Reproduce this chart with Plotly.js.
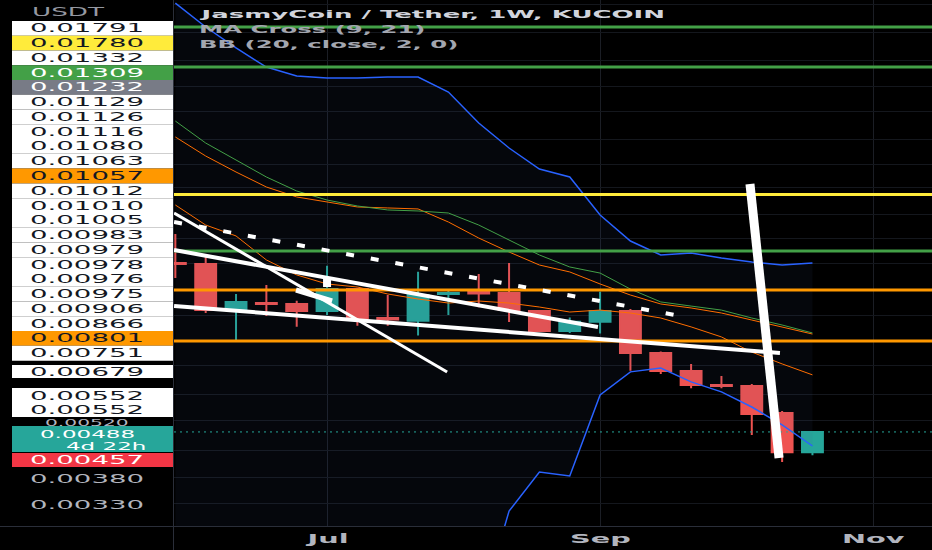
<!DOCTYPE html>
<html><head><meta charset="utf-8">
<script src="https://cdn.plot.ly/plotly-3.0.1.min.js"></script>
<style>
html,body{margin:0;padding:0;background:#000;}
#chart{width:932px;height:550px;}
.annotation-text{transform-box:fill-box;transform:scaleX(2.3);transform-origin:50% 50%;}
.annotation-text[text-anchor="start"]{transform-origin:0% 50%;}
.annotation-text[text-anchor="end"]{transform-origin:100% 50%;}
</style></head>
<body><div id="chart"></div>
<script>
// ---------- data ----------
const weeks = ['2022-05-30','2022-06-06','2022-06-13','2022-06-20','2022-06-27','2022-07-04','2022-07-11','2022-07-18','2022-07-25','2022-08-01','2022-08-08','2022-08-15','2022-08-22','2022-08-29','2022-09-05','2022-09-12','2022-09-19','2022-09-26','2022-10-03','2022-10-10','2022-10-17','2022-10-24'];
const openP  = [0.01225,0.01219,0.00948,0.00985,0.00980,0.00943,0.01063,0.00908,0.00895,0.01035,0.01046,0.01040,0.00943,0.00846,0.00890,0.00943,0.00750,0.00680,0.00630,0.00627,0.00541,0.00437];
const highP  = [0.01435,0.01268,0.01035,0.01087,0.00998,0.01207,0.01071,0.01029,0.01169,0.01063,0.01154,0.01225,0.00948,0.00911,0.01048,0.00954,0.00756,0.00707,0.00662,0.00634,0.00547,0.00489];
const lowP   = [0.01129,0.00933,0.00805,0.00918,0.00866,0.00923,0.00871,0.00871,0.00825,0.00923,0.00963,0.00888,0.00841,0.00837,0.00835,0.00681,0.00669,0.00619,0.00619,0.00480,0.00414,0.00430];
const closeP = [0.01219,0.00948,0.00991,0.00980,0.00943,0.01063,0.00908,0.00901,0.01029,0.01040,0.01038,0.00948,0.00846,0.00890,0.00943,0.00750,0.00680,0.00630,0.00627,0.00538,0.00437,0.00488];

const bbUpper = [0.0505,0.04434,0.03955,0.03565,0.03395,0.03358,0.03358,0.03376,0.03376,0.03111,0.02628,0.02293,0.02045,0.01958,0.01592,0.01381,0.01280,0.01294,0.01259,0.01232,0.01212,0.01225];
const bbBasis = [0.02435,0.02195,0.02012,0.01854,0.01756,0.01708,0.01663,0.01654,0.01645,0.01532,0.01404,0.01301,0.01212,0.01167,0.01093,0.01029,0.00980,0.00959,0.00933,0.00898,0.00865,0.00832];
const bbLower = [0.0004,0.0004,0.0007,0.0014,0.0012,0.0006,0.0004,0.0004,0.0004,0.0004,0.0018,0.00317,0.00392,0.00384,0.00597,0.00677,0.00691,0.00641,0.00607,0.00559,0.00507,0.00452];
const ma9  = [0.01681,0.01507,0.01420,0.01246,0.01148,0.01093,0.01075,0.01035,0.01007,0.00985,0.00996,0.00985,0.00964,0.00938,0.00948,0.00933,0.00908,0.00865,0.00819,0.00754,0.00707,0.00666];
const ma21 = [0.02656,0.02356,0.02148,0.01958,0.01814,0.01727,0.01672,0.01636,0.01627,0.01609,0.01507,0.01389,0.01280,0.01199,0.01160,0.01063,0.00991,0.00969,0.00948,0.00908,0.00874,0.00837];

// horizontal price levels (drawings)
const greenLevels  = [0.04434,0.03565,0.01309];
const yellowLevels = [0.01780];
const orangeLevels = [0.01057,0.00801];

// trend-line drawings: [start date, end date], [start price, end price]
const trendLowX  = ['2022-05-29 17:00','2022-10-16 12:00'], trendLowY  = [0.009693,0.007503];
const trendMidX  = ['2022-05-29 17:00','2022-09-04 12:00'], trendMidY  = [0.013153,0.008645];
const trendSteepX= ['2022-05-29 17:00','2022-07-31 17:00'], trendSteepY= [0.016087,0.006765];
const dashedX    = ['2022-05-29 17:00','2022-09-23 12:00'], dashedY    = [0.01532,0.009179];
const spikeX     = ['2022-10-09 14:00','2022-10-16 07:00'], spikeY     = [0.018844,0.004234];
const arrowX     = ['2022-06-26 20:00','2022-07-05 04:00'], arrowY     = [0.010577,0.009961];
const markX = ['2022-07-04'], markY = [0.010987];

// axis texts
const xTickDates = ['2022-07-04','2022-09-05','2022-11-07'];
const xTickText  = ['Jul','Sep','Nov'];
const stackLabels = ['0.01791','0.01780','0.01332','0.01309','0.01232','0.01129','0.01126','0.01116','0.01080','0.01063','0.01057','0.01012','0.01010','0.01005','0.00983','0.00979','0.00978','0.00976','0.00975','0.00906','0.00866','0.00801','0.00751'];
const stackKinds  = ['w','y','w','g','s','w','w','w','w','w','o','w','w','w','w','w','w','w','w','w','w','o','w'];
const lowerLabels = ['0.00679','0.00552','0.00552','0.00520','0.00488','4d 22h','0.00457','0.00380','0.00330'];
const lowerKinds  = ['w','w','w','t0','teal','teal2','r','t0','t0'];
const gridVals = [0.0033,0.0038,0.0044,0.0052,0.006,0.007,0.008,0.0092,0.0106,0.0122,0.014,0.016,0.0185,0.021,0.024,0.028,0.032,0.037,0.043,0.05];

// ---------- layout helpers ----------
const PL = 174, PW = 758, PH = 526;
const xp = px => (px - PL) / PW;
const yp = py => 1 - py / PH;
const xRange = ['2022-05-29 16:30','2022-11-20 14:00'];
const FONT = 'DejaVu Sans';

const kindStyle = {
  w:{bg:'#ffffff', fg:'#131722'}, y:{bg:'#ffeb3b', fg:'#131722'}, g:{bg:'#43a047', fg:'#ffffff'},
  s:{bg:'#787b86', fg:'#ffffff'}, o:{bg:'#ff9800', fg:'#131722'}, r:{bg:'#f23645', fg:'#ffffff'},
  teal:{bg:'#26a69a', fg:'#ffffff'}, teal2:{bg:null, fg:'#ffffff'}, t0:{bg:null, fg:'#b2b5be'}
};

const traces = [];
// Bollinger fill + bands
traces.push({x:weeks, y:bbLower, type:'scatter', mode:'lines', line:{color:'#2962ff', width:1.5}, hoverinfo:'skip'});
traces.push({x:weeks, y:bbUpper, type:'scatter', mode:'lines', line:{color:'#2962ff', width:1.5}, fill:'tonexty', fillcolor:'rgba(60,90,150,0.08)', hoverinfo:'skip'});
traces.push({x:weeks, y:bbBasis, type:'scatter', mode:'lines', line:{color:'#ff6d00', width:1}, hoverinfo:'skip'});
traces.push({x:weeks, y:ma21, type:'scatter', mode:'lines', line:{color:'#43a047', width:1}, hoverinfo:'skip'});
traces.push({x:weeks, y:ma9, type:'scatter', mode:'lines', line:{color:'#ff6d00', width:1}, hoverinfo:'skip'});
// candles
traces.push({x:weeks, open:openP, high:highP, low:lowP, close:closeP, type:'candlestick', whiskerwidth:0,
  increasing:{line:{color:'#26a69a', width:2}, fillcolor:'#26a69a'},
  decreasing:{line:{color:'#ef5350', width:2}, fillcolor:'#ef5350'}, hoverinfo:'skip'});
// level lines
const addLevels = (arr, color) => arr.forEach(v => traces.push({x:xRange, y:[v,v], type:'scatter', mode:'lines', line:{color:color, width:3}, hoverinfo:'skip'}));
addLevels(greenLevels, '#43a047');
addLevels(yellowLevels, '#ffeb3b');
addLevels(orangeLevels, '#ff9800');
// last price dotted line
const last = closeP[closeP.length-1];
traces.push({x:xRange, y:[last,last], type:'scatter', mode:'lines', line:{color:'#26a69a', width:1, dash:'2px,4px'}, hoverinfo:'skip'});
// white drawings
const white = (x, y, w, dash) => traces.push({x:x, y:y, type:'scatter', mode:'lines', line:{color:'#ffffff', width:w, dash:dash||'solid'}, hoverinfo:'skip'});
white(trendLowX, trendLowY, 4);
white(trendMidX, trendMidY, 4);
white(trendSteepX, trendSteepY, 3);
white(dashedX, dashedY, 4, '8px,17px');
white(arrowX, arrowY, 5);
white(spikeX, spikeY, 9);
traces.push({x:markX, y:markY, type:'scatter', mode:'markers', marker:{symbol:'square', size:8, color:'#ffffff'}, hoverinfo:'skip'});

// ---------- label boxes & texts ----------
const shapes = [];
const annotations = [];
const addBox = (top, bottom, color) => shapes.push({type:'rect', xref:'paper', yref:'paper', x0:xp(12), x1:xp(173), y0:yp(bottom), y1:yp(top), fillcolor:color, line:{width:0}, layer:'above'});
const addText = (text, pxX, pxY, color, size, anchor, bold) => annotations.push({
  xref:'paper', yref:'paper', x:xp(pxX), y:yp(pxY), xanchor:anchor, yanchor:'middle',
  align: anchor === 'left' ? 'left' : (anchor === 'right' ? 'right' : 'center'),
  text: bold ? '<b>' + text + '</b>' : text, showarrow:false,
  font:{family:FONT, size:size, color:color}});

const STEP = 14.77, Y0 = 28.3;
stackLabels.forEach((t, i) => {
  const yc = Y0 + STEP * i, st = kindStyle[stackKinds[i]];
  addBox(yc - STEP/2, yc + STEP/2, st.bg);
});
stackLabels.forEach((t, i) => {
  const yc = Y0 + STEP * i, st = kindStyle[stackKinds[i]];
  addText(t, 87, yc, st.fg, 12, 'center');
});
const lowerPos  = [371.7, 395.5, 410, 422.8, 434, 446.2, 460, 479.3, 505];
const lowerSize = [12, 12, 12, 8.8, 10, 10, 12, 12, 12];
const lowerBox = [[365,378],[388,403],[403,417],null,[426,452],null,[453,467],null,null];
lowerLabels.forEach((t, i) => {
  const st = kindStyle[lowerKinds[i]];
  if (lowerBox[i]) addBox(lowerBox[i][0], lowerBox[i][1], st.bg);
});
lowerLabels.forEach((t, i) => {
  const st = kindStyle[lowerKinds[i]];
  if (lowerKinds[i] === 'teal2') addText(t, 148, lowerPos[i], st.fg, lowerSize[i], 'right');
  else addText(t, 87, lowerPos[i], st.fg, lowerSize[i], 'center');
});
addText('USDT', 30, 12, '#9598a1', 11.4, 'left');

// chart legend texts
addText('JasmyCoin / Tether, 1W, KUCOIN', 197, 14, '#d1d4dc', 11.3, 'left', true);
addText('MA Cross (9, 21)', 197, 29, '#a3a6af', 10.6, 'left', true);
addText('BB (20, close, 2, 0)', 197, 44, '#a3a6af', 10.6, 'left', true);

// time axis labels
xTickDates.forEach((d, i) => annotations.push({xref:'x', yref:'paper', x:d, y:yp(538), xanchor:'center', yanchor:'middle',
  text:'<b>' + xTickText[i] + '</b>', showarrow:false, font:{family:FONT, size:12.5, color:'#b2b5be'}}));

// axis borders
shapes.push({type:'line', xref:'paper', yref:'paper', x0:xp(173.5), x1:xp(173.5), y0:yp(0), y1:yp(550), line:{color:'#2a2e39', width:1}, layer:'above'});
shapes.push({type:'line', xref:'paper', yref:'paper', x0:xp(0), x1:xp(932), y0:yp(526.5), y1:yp(526.5), line:{color:'#2a2e39', width:1}, layer:'above'});

const layout = {
  width:932, height:550, margin:{l:PL, r:0, t:0, b:24},
  paper_bgcolor:'#000000', plot_bgcolor:'#000000', showlegend:false,
  boxgap:0.15, boxgroupgap:0.19,
  xaxis:{type:'date', range:xRange, tickmode:'array', tickvals:xTickDates, showticklabels:false, ticks:'',
         showgrid:true, gridcolor:'#1b1e25', zeroline:false, showline:false, rangeslider:{visible:false}},
  yaxis:{type:'log', range:[-2.5342,-1.2893], tickmode:'array', tickvals:gridVals, showticklabels:false, ticks:'',
         showgrid:true, gridcolor:'#14171d', zeroline:false, showline:false},
  shapes:shapes, annotations:annotations
};
Plotly.newPlot('chart', traces, layout, {staticPlot:true, displayModeBar:false});
</script></body></html>
